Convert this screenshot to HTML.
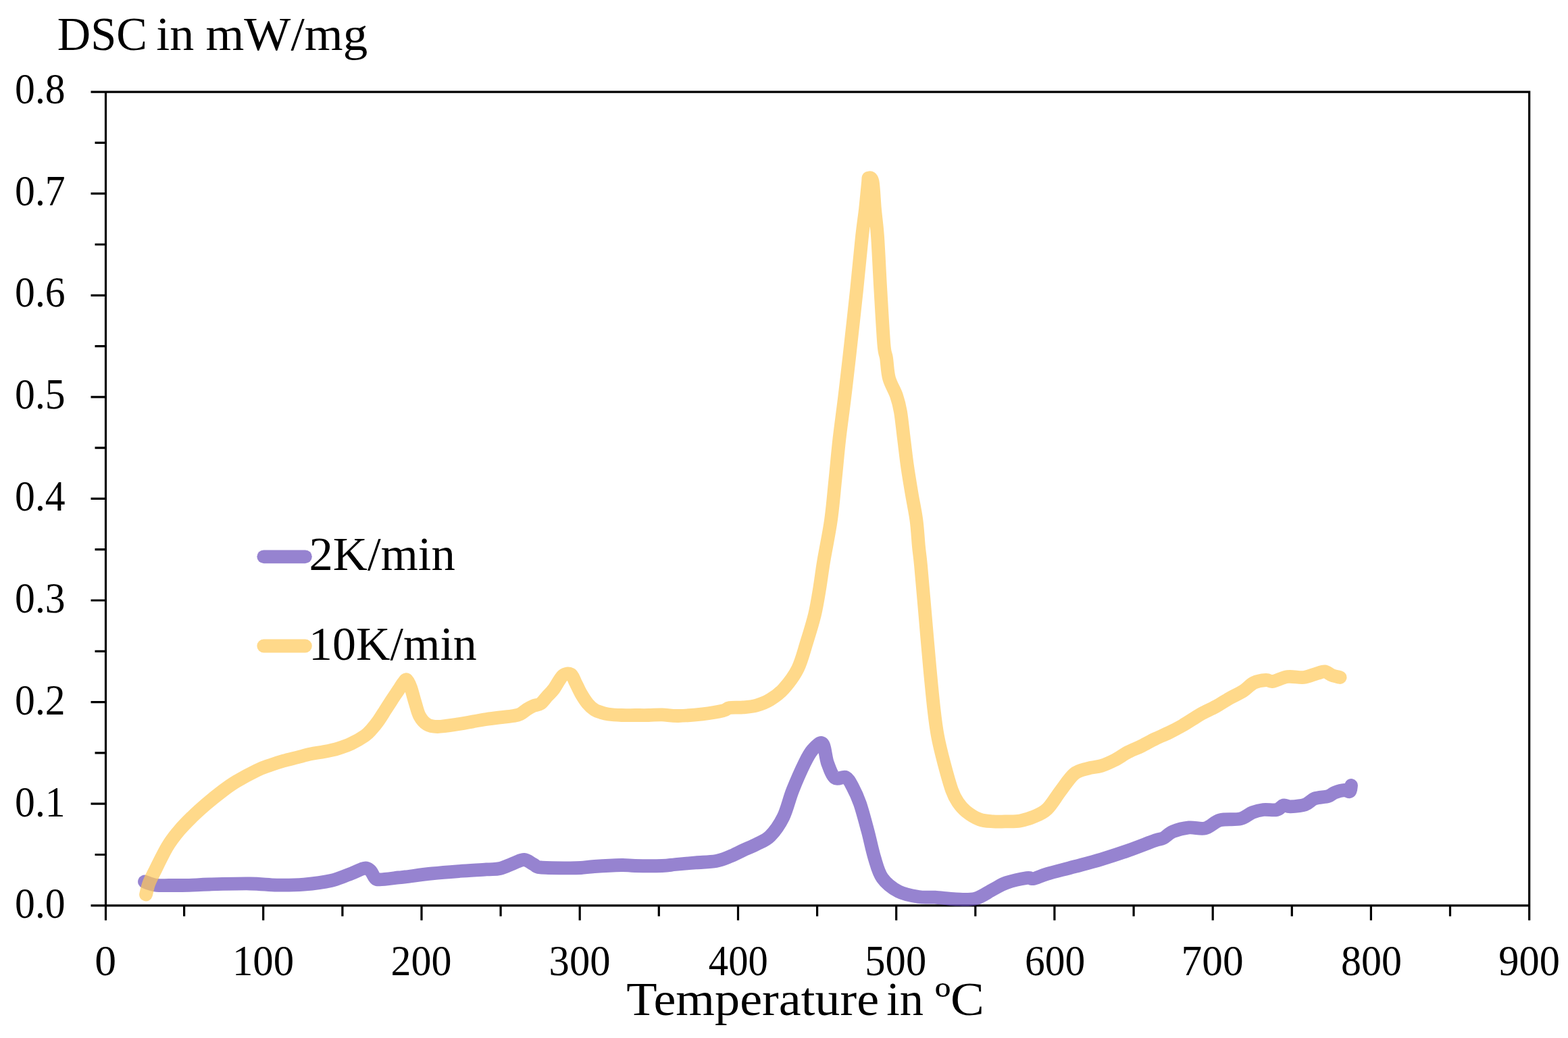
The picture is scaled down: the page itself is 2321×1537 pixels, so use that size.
<!DOCTYPE html>
<html lang="en">
<head>
<meta charset="utf-8">
<title>DSC in mW/mg vs Temperature</title>
<style>
html,body{margin:0;padding:0;background:#fff;}
body{width:2321px;height:1537px;overflow:hidden;}
svg{display:block;}
text{font-family:"Liberation Serif","DejaVu Serif",serif;fill:#000;}
.tick{font-size:63px;}
.lab{font-size:70px;}
.ax{stroke:#000;stroke-width:3.2;fill:none;}
.cv{fill:none;stroke-width:19.8;stroke-linecap:round;stroke-linejoin:round;}
</style>
</head>
<body>
<svg width="2321" height="1537" viewBox="0 0 2321 1537">
<rect width="2321" height="1537" fill="#fff"/>
<g class="ax">
<path d="M134.5,136.1 H2263.7 V1362.8"/>
<path d="M156.5,136.1 V1362.8"/>
<path d="M134.5,1340.8 H2263.7"/>
<path d="M140.5,1265.5 H156.5 M134.5,1190.2 H156.5 M140.5,1114.9 H156.5 M134.5,1039.6 H156.5 M140.5,964.3 H156.5 M134.5,889.0 H156.5 M140.5,813.7 H156.5 M134.5,738.4 H156.5 M140.5,663.1 H156.5 M134.5,587.8 H156.5 M140.5,512.6 H156.5 M134.5,437.3 H156.5 M140.5,362.0 H156.5 M134.5,286.7 H156.5 M140.5,211.4 H156.5 M272.6,1340.8 V1356.8 M389.7,1340.8 V1362.8 M506.9,1340.8 V1356.8 M624.0,1340.8 V1362.8 M741.1,1340.8 V1356.8 M858.2,1340.8 V1362.8 M975.3,1340.8 V1356.8 M1092.5,1340.8 V1362.8 M1209.6,1340.8 V1356.8 M1326.7,1340.8 V1362.8 M1443.8,1340.8 V1356.8 M1560.9,1340.8 V1362.8 M1678.1,1340.8 V1356.8 M1795.2,1340.8 V1362.8 M1912.3,1340.8 V1356.8 M2029.4,1340.8 V1362.8 M2146.5,1340.8 V1356.8"/>
</g>
<text class="tick" transform="translate(22.11,1359.34) scale(0.947,1.02)">0.0</text>
<text class="tick" transform="translate(22.11,1208.51) scale(0.947,1.02)">0.1</text>
<text class="tick" transform="translate(22.11,1057.68) scale(0.947,1.02)">0.2</text>
<text class="tick" transform="translate(22.11,906.85) scale(0.947,1.02)">0.3</text>
<text class="tick" transform="translate(22.11,756.02) scale(0.947,1.02)">0.4</text>
<text class="tick" transform="translate(22.11,605.19) scale(0.947,1.02)">0.5</text>
<text class="tick" transform="translate(22.11,454.36) scale(0.947,1.02)">0.6</text>
<text class="tick" transform="translate(22.11,303.53) scale(0.947,1.02)">0.7</text>
<text class="tick" transform="translate(22.11,152.70) scale(0.947,1.02)">0.8</text>
<text class="tick" transform="translate(140.18,1444.00) scale(1.0111,1.0200)">0</text>
<text class="tick" transform="translate(343.97,1444.00) scale(0.9655,1.0200)">100</text>
<text class="tick" transform="translate(578.60,1444.00) scale(0.9522,1.0200)">200</text>
<text class="tick" transform="translate(812.61,1444.00) scale(0.9629,1.0200)">300</text>
<text class="tick" transform="translate(1048.87,1444.00) scale(0.9308,1.0200)">400</text>
<text class="tick" transform="translate(1280.31,1444.00) scale(0.9618,1.0200)">500</text>
<text class="tick" transform="translate(1516.91,1444.00) scale(0.9444,1.0200)">600</text>
<text class="tick" transform="translate(1748.60,1444.00) scale(0.9739,1.0200)">700</text>
<text class="tick" transform="translate(1984.90,1444.00) scale(0.9522,1.0200)">800</text>
<text class="tick" transform="translate(2218.28,1444.00) scale(0.9589,1.0200)">900</text>
<text class="lab" y="74"><tspan x="84.85" textLength="132.95" lengthAdjust="spacingAndGlyphs">DSC</tspan> <tspan x="231.17" textLength="56.10" lengthAdjust="spacingAndGlyphs">in</tspan> <tspan x="304.45" textLength="239.83" lengthAdjust="spacingAndGlyphs">mW/mg</tspan></text>
<text class="lab" y="1503.3"><tspan x="927.24" textLength="373.89" lengthAdjust="spacingAndGlyphs">Temperature</tspan> <tspan x="1312.29" textLength="54.86" lengthAdjust="spacingAndGlyphs">in</tspan> <tspan x="1383.93" textLength="73.00" lengthAdjust="spacingAndGlyphs">ºC</tspan></text>
<text class="lab" transform="translate(457.46,844.40) scale(1.0119,1.0000)">2K/min</text>
<text class="lab" transform="translate(456.90,976.60) scale(1.0004,1.0000)">10K/min</text>
<path class="cv" stroke="#6a4ebc" stroke-opacity="0.7" d="M214.0,1305.5C215.3,1306.0 219.0,1307.6 222.0,1308.5C225.0,1309.4 227.3,1310.4 232.0,1310.8C236.7,1311.2 242.0,1311.0 250.0,1311.0C258.0,1311.0 270.0,1311.0 280.0,1310.8C290.0,1310.5 295.0,1309.9 310.0,1309.5C325.0,1309.1 353.3,1308.3 370.0,1308.5C386.7,1308.7 396.7,1310.4 410.0,1310.6C423.3,1310.8 436.7,1310.7 450.0,1309.6C463.3,1308.5 478.3,1306.7 490.0,1304.0C501.7,1301.3 512.5,1296.2 520.0,1293.4C527.5,1290.6 531.3,1288.3 535.0,1287.0C538.7,1285.7 539.7,1285.0 542.0,1285.5C544.3,1286.0 546.8,1287.6 549.0,1290.0C551.2,1292.4 552.8,1297.9 555.0,1300.0C557.2,1302.1 556.2,1302.5 562.0,1302.4C567.8,1302.3 583.7,1300.1 590.0,1299.4C596.3,1298.7 591.7,1299.4 600.0,1298.4C608.3,1297.4 626.7,1294.8 640.0,1293.4C653.3,1292.0 666.7,1291.0 680.0,1290.0C693.3,1289.0 710.0,1288.1 720.0,1287.4C730.0,1286.7 733.3,1287.5 740.0,1286.0C746.7,1284.5 754.0,1280.6 760.0,1278.4C766.0,1276.2 771.0,1272.7 776.0,1273.0C781.0,1273.3 786.0,1278.1 790.0,1280.0C794.0,1281.9 791.7,1283.5 800.0,1284.4C808.3,1285.3 830.0,1285.3 840.0,1285.4C850.0,1285.5 853.3,1285.4 860.0,1285.0C866.7,1284.6 870.0,1283.7 880.0,1283.0C890.0,1282.3 910.0,1281.2 920.0,1281.0C930.0,1280.8 930.0,1281.8 940.0,1282.0C950.0,1282.2 970.0,1282.3 980.0,1282.0C990.0,1281.7 991.7,1280.8 1000.0,1280.0C1008.3,1279.2 1020.0,1278.2 1030.0,1277.4C1040.0,1276.6 1051.7,1276.5 1060.0,1275.0C1068.3,1273.5 1073.3,1271.1 1080.0,1268.4C1086.7,1265.7 1093.3,1262.1 1100.0,1259.0C1106.7,1255.9 1113.3,1253.5 1120.0,1250.0C1126.7,1246.5 1133.4,1244.7 1140.0,1238.0C1146.6,1231.3 1153.8,1221.3 1159.4,1210.0C1165.0,1198.7 1168.1,1183.3 1173.4,1170.0C1178.7,1156.7 1186.1,1140.0 1191.0,1130.0C1195.9,1120.0 1198.6,1114.8 1203.0,1110.0C1207.4,1105.2 1213.8,1097.7 1217.5,1101.0C1221.2,1104.3 1221.9,1121.5 1225.0,1130.0C1228.1,1138.5 1231.5,1148.5 1236.0,1152.0C1240.5,1155.5 1247.7,1148.8 1252.0,1151.0C1256.3,1153.2 1258.5,1158.5 1262.0,1165.0C1265.5,1171.5 1269.3,1179.2 1273.0,1190.0C1276.7,1200.8 1280.8,1216.7 1284.4,1230.0C1288.0,1243.3 1290.8,1258.3 1294.4,1270.0C1298.0,1281.7 1300.1,1291.7 1306.0,1300.0C1311.9,1308.3 1321.0,1315.3 1330.0,1320.0C1339.0,1324.7 1351.0,1326.5 1360.0,1328.0C1369.0,1329.5 1374.8,1328.1 1384.0,1328.7C1393.2,1329.3 1405.0,1331.2 1415.0,1331.5C1425.0,1331.8 1434.8,1332.9 1444.0,1330.5C1453.2,1328.1 1462.3,1320.9 1470.0,1317.0C1477.7,1313.1 1481.7,1309.8 1490.0,1307.0C1498.3,1304.2 1513.3,1301.0 1520.0,1300.0C1526.7,1299.0 1525.0,1302.0 1530.0,1301.0C1535.0,1300.0 1540.0,1296.9 1550.0,1294.0C1560.0,1291.1 1576.7,1287.0 1590.0,1283.4C1603.3,1279.8 1616.7,1276.4 1630.0,1272.4C1643.3,1268.4 1656.7,1264.1 1670.0,1259.4C1683.3,1254.7 1701.3,1247.5 1710.0,1244.4C1718.7,1241.3 1717.7,1243.2 1722.0,1241.0C1726.3,1238.8 1729.7,1234.0 1736.0,1231.4C1742.3,1228.8 1752.0,1226.2 1760.0,1225.4C1768.0,1224.6 1776.3,1228.2 1784.0,1226.4C1791.7,1224.6 1797.3,1216.7 1806.0,1214.4C1814.7,1212.1 1828.0,1214.3 1836.0,1212.4C1844.0,1210.5 1848.3,1205.2 1854.0,1203.0C1859.7,1200.8 1864.0,1199.7 1870.0,1199.0C1876.0,1198.3 1885.0,1200.1 1890.0,1199.0C1895.0,1197.9 1896.7,1193.2 1900.0,1192.4C1903.3,1191.6 1904.7,1194.6 1910.0,1194.4C1915.3,1194.2 1926.0,1193.4 1932.0,1191.4C1938.0,1189.4 1940.3,1184.5 1946.0,1182.4C1951.7,1180.3 1961.0,1180.5 1966.0,1179.0C1971.0,1177.5 1972.0,1174.9 1976.0,1173.4C1980.0,1171.9 1986.3,1170.2 1990.0,1170.0C1993.7,1169.8 1996.3,1173.2 1998.0,1172.0C1999.7,1170.8 1999.7,1164.5 2000.0,1163.0"/>
<path class="cv" stroke="#ffc958" stroke-opacity="0.7" d="M216.0,1324.6C216.8,1321.8 218.3,1313.8 220.5,1308.0C222.7,1302.2 224.5,1299.0 229.0,1290.0C233.5,1281.0 241.5,1264.0 247.5,1254.0C253.5,1244.0 258.9,1237.3 265.0,1230.0C271.1,1222.7 277.2,1216.7 284.0,1210.0C290.8,1203.3 298.2,1196.7 306.0,1190.0C313.8,1183.3 323.7,1175.5 331.0,1170.0C338.3,1164.5 341.8,1161.9 350.0,1157.0C358.2,1152.1 371.7,1144.8 380.0,1140.8C388.3,1136.8 393.3,1135.4 400.0,1133.0C406.7,1130.6 413.3,1128.4 420.0,1126.5C426.7,1124.6 433.3,1123.2 440.0,1121.5C446.7,1119.8 453.3,1117.8 460.0,1116.4C466.7,1115.0 473.3,1114.3 480.0,1113.0C486.7,1111.7 493.3,1110.4 500.0,1108.4C506.7,1106.4 513.3,1104.2 520.0,1101.0C526.7,1097.8 535.0,1093.0 540.0,1089.5C545.0,1086.0 546.7,1083.7 550.0,1080.0C553.3,1076.3 556.7,1072.2 560.0,1067.5C563.3,1062.8 566.7,1057.2 570.0,1052.0C573.3,1046.8 576.7,1041.6 580.0,1036.5C583.3,1031.4 587.2,1025.8 590.0,1021.5C592.8,1017.2 595.0,1013.5 597.0,1011.0C599.0,1008.5 600.2,1005.3 602.0,1006.5C603.8,1007.7 605.9,1012.4 608.0,1018.0C610.1,1023.6 612.2,1033.0 614.4,1040.0C616.6,1047.0 618.1,1054.6 621.0,1060.0C623.9,1065.4 627.5,1069.8 632.0,1072.5C636.5,1075.2 640.0,1076.1 648.0,1076.0C656.0,1075.9 671.3,1073.3 680.0,1072.0C688.7,1070.7 693.3,1069.6 700.0,1068.4C706.7,1067.2 713.3,1066.0 720.0,1065.0C726.7,1064.0 733.3,1063.2 740.0,1062.4C746.7,1061.6 755.0,1060.8 760.0,1060.0C765.0,1059.2 766.7,1059.0 770.0,1057.4C773.3,1055.8 776.7,1052.5 780.0,1050.4C783.3,1048.3 786.7,1046.4 790.0,1045.0C793.3,1043.6 796.7,1044.3 800.0,1042.0C803.3,1039.7 806.7,1034.7 810.0,1031.0C813.3,1027.3 816.2,1025.1 820.0,1020.0C823.8,1014.9 828.8,1004.1 833.0,1000.5C837.2,996.9 841.8,996.8 845.0,998.5C848.2,1000.2 849.5,1006.2 852.0,1011.0C854.5,1015.8 857.0,1021.8 860.0,1027.0C863.0,1032.2 866.7,1038.0 870.0,1042.0C873.3,1046.0 876.7,1048.8 880.0,1051.0C883.3,1053.2 886.7,1053.9 890.0,1055.0C893.3,1056.1 895.0,1056.8 900.0,1057.5C905.0,1058.2 913.3,1058.8 920.0,1059.0C926.7,1059.2 933.3,1059.0 940.0,1059.0C946.7,1059.0 953.3,1059.1 960.0,1059.0C966.7,1058.9 972.7,1058.2 980.0,1058.4C987.3,1058.6 994.0,1060.2 1004.0,1060.0C1014.0,1059.8 1029.0,1058.7 1040.0,1057.4C1051.0,1056.1 1063.3,1054.0 1070.0,1052.4C1076.7,1050.8 1075.0,1048.8 1080.0,1048.0C1085.0,1047.2 1093.3,1048.0 1100.0,1047.4C1106.7,1046.8 1113.3,1046.3 1120.0,1044.4C1126.7,1042.5 1133.3,1040.1 1140.0,1036.0C1146.7,1031.9 1153.2,1027.7 1160.0,1020.0C1166.8,1012.3 1175.3,1001.7 1181.0,990.0C1186.7,978.3 1190.2,963.3 1194.4,950.0C1198.6,936.7 1202.8,923.3 1206.0,910.0C1209.2,896.7 1211.2,883.3 1213.4,870.0C1215.6,856.7 1216.6,846.7 1219.4,830.0C1222.2,813.3 1227.2,790.0 1230.0,770.0C1232.8,750.0 1234.3,730.0 1236.4,710.0C1238.5,690.0 1240.1,670.0 1242.4,650.0C1244.7,630.0 1247.6,610.0 1250.0,590.0C1252.4,570.0 1254.0,556.7 1257.0,530.0C1260.0,503.3 1264.8,460.0 1268.0,430.0C1271.2,400.0 1273.8,370.0 1276.0,350.0C1278.2,330.0 1279.5,323.3 1281.0,310.0C1282.5,296.7 1284.2,277.7 1285.0,270.0C1285.8,262.3 1284.9,263.8 1286.0,263.6C1287.1,263.4 1290.1,261.3 1291.6,269.0C1293.1,276.7 1293.8,296.5 1295.0,310.0C1296.2,323.5 1297.6,330.0 1299.0,350.0C1300.4,370.0 1301.8,403.3 1303.4,430.0C1305.0,456.7 1307.0,493.3 1308.4,510.0C1309.8,526.7 1310.7,521.7 1312.0,530.0C1313.3,538.3 1313.5,550.7 1316.0,560.0C1318.5,569.3 1324.2,577.7 1327.0,586.0C1329.8,594.3 1331.2,599.3 1333.0,610.0C1334.8,620.7 1336.3,636.7 1338.0,650.0C1339.7,663.3 1341.1,676.7 1343.0,690.0C1344.9,703.3 1347.2,716.7 1349.4,730.0C1351.6,743.3 1354.6,756.7 1356.4,770.0C1358.2,783.3 1358.9,798.8 1360.0,810.0C1361.1,821.2 1361.4,820.3 1363.0,837.0C1364.6,853.7 1367.2,884.5 1369.4,910.0C1371.6,935.5 1374.2,966.7 1376.4,990.0C1378.6,1013.3 1380.5,1033.3 1382.4,1050.0C1384.3,1066.7 1385.5,1076.7 1388.0,1090.0C1390.5,1103.3 1393.9,1116.7 1397.4,1130.0C1400.9,1143.3 1405.6,1160.3 1409.0,1170.0C1412.4,1179.7 1414.5,1182.8 1418.0,1188.0C1421.5,1193.2 1424.7,1197.2 1430.0,1201.4C1435.3,1205.6 1443.3,1210.9 1450.0,1213.4C1456.7,1215.9 1463.3,1215.9 1470.0,1216.4C1476.7,1216.9 1483.3,1216.6 1490.0,1216.4C1496.7,1216.2 1503.3,1216.6 1510.0,1215.4C1516.7,1214.2 1523.3,1212.3 1530.0,1209.4C1536.7,1206.5 1543.3,1204.4 1550.0,1198.0C1556.7,1191.6 1563.3,1179.7 1570.0,1171.0C1576.7,1162.3 1583.3,1151.5 1590.0,1146.0C1596.7,1140.5 1603.3,1140.0 1610.0,1138.0C1616.7,1136.0 1623.3,1136.1 1630.0,1134.0C1636.7,1131.9 1643.3,1128.9 1650.0,1125.5C1656.7,1122.1 1663.3,1117.0 1670.0,1113.5C1676.7,1110.0 1683.3,1107.8 1690.0,1104.5C1696.7,1101.2 1703.3,1097.2 1710.0,1094.0C1716.7,1090.8 1723.3,1088.2 1730.0,1085.0C1736.7,1081.8 1743.3,1078.3 1750.0,1074.5C1756.7,1070.7 1765.0,1065.1 1770.0,1062.0C1775.0,1058.9 1775.0,1058.7 1780.0,1056.0C1785.0,1053.3 1793.3,1049.7 1800.0,1046.0C1806.7,1042.3 1813.3,1037.8 1820.0,1034.0C1826.7,1030.2 1834.0,1027.2 1840.0,1023.4C1846.0,1019.6 1850.3,1013.7 1856.0,1011.0C1861.7,1008.3 1869.3,1007.3 1874.0,1007.0C1878.7,1006.7 1878.7,1009.8 1884.0,1009.0C1889.3,1008.2 1898.3,1003.0 1906.0,1002.0C1913.7,1001.0 1922.7,1003.8 1930.0,1003.0C1937.3,1002.2 1944.8,998.4 1950.0,997.0C1955.2,995.6 1957.3,993.9 1961.0,994.4C1964.7,994.9 1968.2,998.6 1972.0,1000.0C1975.8,1001.4 1981.7,1002.5 1983.6,1003.0"/>
<path class="cv" stroke="#6a4ebc" stroke-opacity="0.7" d="M390.3,824.3 H451.9"/>
<path class="cv" stroke="#ffc958" stroke-opacity="0.7" d="M390.3,956.5 H451.9"/>
</svg>
</body>
</html>
